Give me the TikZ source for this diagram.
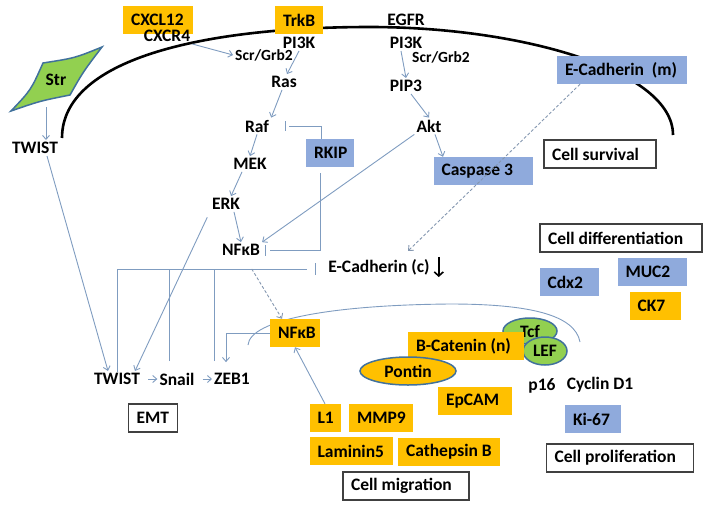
\documentclass[tikz,border=0pt]{standalone}
\usepackage{fontspec}
\setmainfont{Carlito}
\usetikzlibrary{arrows.meta,shapes.geometric}
\definecolor{orng}{HTML}{FFC000}
\definecolor{blu}{HTML}{8FAADC}
\definecolor{grn}{HTML}{92D050}
\definecolor{edg}{HTML}{41719C}
\definecolor{lnc}{HTML}{7F9CC0}
\definecolor{dsh}{HTML}{8497B0}
\newcommand{\bxt}[2]{\makebox[\dimexpr #1pt-16pt\relax][l]{#2}}
\begin{document}
\begin{tikzpicture}[x=1pt,y=-1pt,
 every node/.style={font=\fontsize{17.5}{20}\selectfont\bfseries, inner sep=2pt},
 small/.style={font=\fontsize{15.5}{17}\selectfont\bfseries},
 boxbase/.style={inner xsep=8pt, inner ysep=0pt, minimum height=28pt},
 obox/.style={boxbase, fill=orng},
 bbox/.style={boxbase, fill=blu},
 wbox/.style={boxbase, draw=black!75, line width=1.1pt, fill=white},
 arr/.style={draw=lnc, line width=0.9pt, -{Straight Barb[length=4pt,width=7pt]}},
 conn/.style={draw=lnc, line width=0.9pt},
 dsharr/.style={draw=dsh, line width=0.9pt, dash pattern=on 3pt off 2pt, -{Straight Barb[length=4pt,width=7pt]}},
 oval/.style={ellipse, fill=grn, draw=edg, line width=1.5pt, inner sep=0pt},
]
\useasboundingbox (0,0) rectangle (708,506);
% membrane
\draw[line width=2.6pt] (62,138) .. controls (62,60) and (200,27) .. (370,27) .. controls (520,27) and (673,70) .. (673,135);
% nucleus
\draw[conn] (248,345) .. controls (250,320) and (330,305) .. (450,304) .. controls (530,304) and (575,315) .. (580,342);
% Str shape
\filldraw[fill=grn, draw=edg, line width=1.5pt] (102,47) .. controls (75,58) .. (43,63) .. controls (31,90) .. (11,111) .. controls (40,101) .. (70,95) .. controls (83,72) .. (102,47) -- cycle;
\node (str) at (56,80) {Str};
% nodes
\node[obox] (cxcl) at (158,20) {\bxt{70}{CXCL12}};
\node (cxcr) at (167,36) {CXCR4};
\node[obox] (trkb) at (299,20) {\bxt{48}{TrkB}};
\node (egfr) at (406,20) {EGFR};
\node (pi3kL) at (299,43) {PI3K};
\node[small] (scrL) at (264,55) {Scr/Grb2};
\node (ras) at (284,82) {Ras};
\node (raf) at (257,126) {Raf};
\node[bbox] (rkip) at (330,153) {\bxt{48}{RKIP}};
\node (mek) at (250,164) {MEK};
\node (erk) at (226,204) {ERK};
\node (nfkb) at (241,250) {NFκB};
\node (pi3kR) at (406,43) {PI3K};
\node[small] (scrR) at (441,57) {Scr/Grb2};
\node (pip3) at (406,86) {PIP3};
\node (akt) at (429,126) {Akt};
\node[bbox] (casp) at (483,171) {\bxt{99}{Caspase 3}};
\node[bbox] (ecadm) at (622,70) {\bxt{130}{E-Cadherin~ (m)}};
\node[wbox] (surv) at (600,154) {\bxt{112}{Cell survival}};
\node (ecadc) at (379,267) {E-Cadherin (c)};
\node[wbox] (diff) at (621,238) {\bxt{162}{Cell differentiation}};
\node[bbox] (cdx2) at (569,282) {\bxt{59}{Cdx2}};
\node[bbox] (muc2) at (652,272) {\bxt{69}{MUC2}};
\node[obox] (ck7) at (655,306) {\bxt{51}{CK7}};
\node (twistL) at (35,148) {TWIST};
\node (twistB) at (117,379) {TWIST};
\node (snail) at (177,379) {Snail};
\node (zeb) at (232,379) {ZEB1};
\node[wbox] (emt) at (153,418) {\bxt{49}{EMT}};
\node[obox] (nfkbO) at (295,333) {\bxt{50}{NFκB}};
\node[oval, minimum width=54pt, minimum height=26pt] (tcf) at (530,331) {Tcf};
\node[oval, minimum width=44pt, minimum height=28pt] (lef) at (545,351) {LEF};
\node[obox] (bcat) at (466,346) {\bxt{116}{B-Catenin (n)}};
\node[ellipse, fill=orng, draw=edg, line width=1.5pt, inner sep=0pt, minimum width=96pt, minimum height=28pt] (pontin) at (408,371) {Pontin};
\node (p16) at (542,386) {p16};
\node (cyc) at (600,385) {Cyclin D1};
\node[bbox] (ki67) at (593,419) {\bxt{56}{Ki-67}};
\node[wbox] (prolif) at (620,458) {\bxt{147}{Cell proliferation}};
\node[obox] (epcam) at (475,401) {\bxt{74}{EpCAM}};
\node[obox] (cath) at (449,452) {\bxt{102}{Cathepsin B}};
\node[obox] (l1) at (325,418) {\bxt{31}{L1}};
\node[obox] (mmp9) at (381,418) {\bxt{64}{MMP9}};
\node[obox] (lam) at (351,451) {\bxt{83}{Laminin5}};
\node[wbox] (migr) at (406,486) {\bxt{126}{Cell migration}};
% connectors
\draw[arr] (cxcr.south east) -- (scrL.west);
\draw[arr] (pi3kL.south) -- ([xshift=3pt]ras.north);
\draw[arr] ([xshift=-2pt]ras.south) -- (raf.north east);
\draw[arr] (raf.south) -- (mek.north);
\draw[arr] ([xshift=-8pt]mek.south) -- ([xshift=5pt]erk.north);
\draw[arr] ([xshift=8pt]erk.south) -- (nfkb.north);
\draw[arr] ([xshift=-5pt]pi3kR.south) -- (pip3.north);
\draw[arr] ([xshift=5pt]pip3.south) -- (akt.north);
\draw[arr] ([xshift=6pt]akt.south) -- ([xshift=-40pt]casp.north);
\draw[arr] (akt.south west) -- (nfkb.north east);
% RKIP inhibitions
\draw[conn] ([xshift=-9pt]rkip.north) |- ([xshift=18pt]raf.east);
\draw[conn] ([xshift=14pt,yshift=5pt]raf.east) -- ([xshift=14pt,yshift=-5pt]raf.east);
\draw[conn] ([xshift=-10pt,yshift=-6pt]rkip.south) |- ([xshift=8pt]nfkb.east);
\draw[conn] ([xshift=3pt,yshift=5pt]nfkb.east) -- ([xshift=3pt,yshift=-6pt]nfkb.east);
% EMT bracket inhibiting E-cadherin (c)
\coordinate (v2) at (169,361);
\coordinate (v3) at (214,361);
\draw[conn] ([yshift=-1pt]twistB.north) -- (twistB.north |- 0,269) -- ([xshift=-19pt]ecadc.west |- 0,269);
\draw[conn] (v2) -- (v2 |- 0,269);
\draw[conn] (v3) -- (v3 |- 0,269);
\draw[conn] ([xshift=-11pt]ecadc.west |- 0,263) -- ([xshift=-11pt]ecadc.west |- 0,275);
\draw[line width=1.6pt, -{Straight Barb[length=4pt,width=9pt]}] ([xshift=7pt]ecadc.north east) -- ([xshift=7pt]ecadc.south east);
% TWIST
\coordinate (strb) at (46,107);
\draw[arr] (strb) -- (strb |- twistL.north);
\draw[arr] ([xshift=12pt]twistL.south) -- ([xshift=-9pt]twistB.north);
\draw[arr, shorten <=6pt] (erk.south west) -- ([xshift=18pt]twistB.north);
\draw[arr, shorten <=6pt] (twistB.east) -- (snail.west);
\draw[arr, shorten <=6pt] (snail.east) -- (zeb.west);
\draw[arr, shorten >=9pt] (nfkbO.west) -| ([xshift=-6pt]zeb.north);
\draw[dsharr, shorten <=13pt] ([xshift=4pt]nfkb.south) -- ([xshift=-13pt]nfkbO.north);
\draw[arr] (l1.north) -- (nfkbO.south);
\draw[dsharr] ([xshift=-42pt]ecadm.south) -- ([xshift=29pt,yshift=6pt]ecadc.north);
\end{tikzpicture}
\end{document}
